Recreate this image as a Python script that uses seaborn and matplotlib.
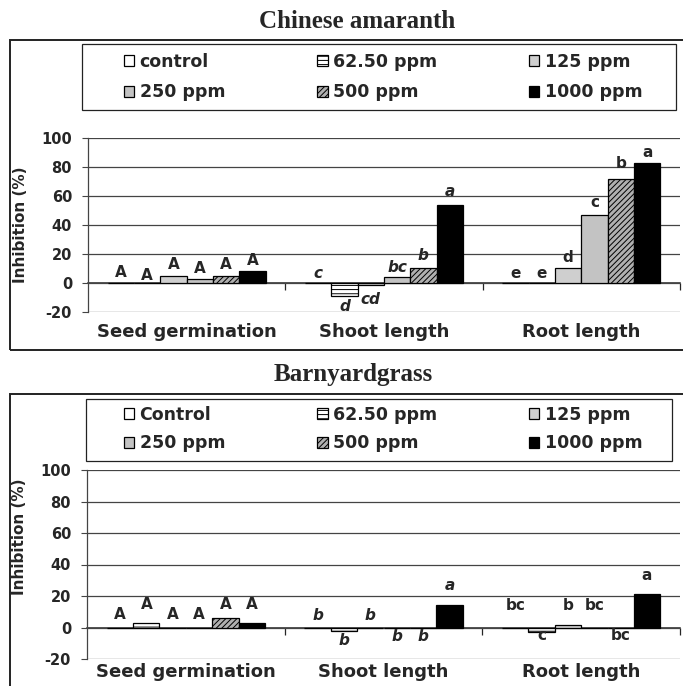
import numpy as np
import pandas as pd
import matplotlib
matplotlib.use('Agg')
import matplotlib.pyplot as plt
import seaborn as sns
from matplotlib.patches import Rectangle

traits = ['Seed germination', 'Shoot length', 'Root length']
doses_am = ['control', '62.50 ppm', '125 ppm', '250 ppm', '500 ppm', '1000 ppm']
doses_bg = ['Control', '62.50 ppm', '125 ppm', '250 ppm', '500 ppm', '1000 ppm']
y_ticks = [-20, 0, 20, 40, 60, 80, 100]

# Chinese amaranth, inhibition (%) per dose
am_seed = [0, 0, 5, 3, 5, 8.5]
am_shoot = [0, -8.5, -1, 4, 10.5, 53.5]
am_root = [0, 0, 10.5, 47, 71.5, 82.5]
am_seed_let = ['A', 'A', 'A', 'A', 'A', 'A']
am_shoot_let = ['c', 'd', 'cd', 'bc', 'b', 'a']
am_root_let = ['e', 'e', 'd', 'c', 'b', 'a']
# height of the letters (in % units)
am_seed_let_y = [7.5, 5.2, 12.6, 10.3, 12.6, 15.3]
am_shoot_let_y = [6.4, -16, -11.5, 11, 18.8, 63]
am_root_let_y = [6.4, 6.4, 18, 55.6, 82, 89.8]

# Barnyardgrass
bg_seed = [0, 2.8, 0, 0, 6, 2.8]
bg_shoot = [0, -2, 0, 0, 0, 14]
bg_root = [0, -2.8, 1.8, 0, 0, 21]
bg_seed_let = ['A', 'A', 'A', 'A', 'A', 'A']
bg_shoot_let = ['b', 'b', 'b', 'b', 'b', 'a']
bg_root_let = ['bc', 'c', 'b', 'bc', 'bc', 'a']
bg_seed_let_y = [8.5, 14.8, 8.5, 8.5, 14.8, 14.8]
bg_shoot_let_y = [7.4, -8.4, 7.4, -5.5, -5.5, 26.5]
bg_root_let_y = [13.8, -5.3, 13.8, 13.8, -5.3, 32.8]

faces = ['white', 'white', '#cfcfcf', '#c3c3c3', '#b0b0b0', 'black']
hatches = ['', '----', '', '', '//////', '']
let_style = ['normal', 'italic', 'normal']

sns.set_style('white')
plt.rcParams['font.family'] = ['DejaVu Sans']
plt.rcParams['axes.unicode_minus'] = False
plt.rcParams['hatch.linewidth'] = 0.7

W, H = 683, 686
fig = plt.figure(figsize=(W / 100, H / 100), dpi=100)


def panel(rect, doses, vals, lets, let_y, xpad, ylab_y):
    ax = fig.add_axes(rect)
    df = pd.DataFrame({'Trait': np.repeat(traits, len(doses)),
                       'Dose': doses * len(traits),
                       'Inhibition': np.concatenate(vals)})
    sns.barplot(data=df, x='Trait', y='Inhibition', hue='Dose', order=traits,
                hue_order=doses, errorbar=None, width=0.8, gap=0, legend=False, ax=ax)
    for cont, fc, h in zip(ax.containers, faces, hatches):
        for bar in cont:
            bar.set_facecolor(fc)
            bar.set_edgecolor('black')
            bar.set_hatch(h)
            bar.set_linewidth(0.9)
    for i, cont in enumerate(ax.containers):
        for j, bar in enumerate(cont):
            ax.text(bar.get_x() + bar.get_width() / 2, let_y[j][i], lets[j][i],
                    ha='center', va='center', fontsize=11, fontweight='bold',
                    fontstyle=let_style[j])
    ax.set_xlim(-0.5, 2.5)
    ax.set_ylim(-20, 100)
    ax.set_yticks(y_ticks)
    ax.set_yticklabels([str(t) for t in y_ticks], fontsize=10.5, fontweight='bold')
    ax.tick_params(axis='y', left=True, direction='out', length=4.5, width=0.8,
                   color='#444', pad=7)
    ax.tick_params(axis='x', length=0, pad=xpad)
    for lab in ax.get_xticklabels():
        lab.set_fontsize(13)
        lab.set_fontweight('bold')
    ax.grid(True, axis='y', color='#444', lw=0.9)
    ax.set_axisbelow(True)
    for s in ['top', 'right', 'bottom']:
        ax.spines[s].set_visible(False)
    ax.spines['left'].set_color('#444')
    ax.spines['left'].set_linewidth(0.9)
    ax.set_xlabel('')
    ax.set_ylabel('Inhibition (%)', fontsize=11, fontweight='bold')
    ax.yaxis.set_label_coords(-0.102, ylab_y)
    # category axis crossing at zero
    sec = ax.secondary_xaxis(1 / 6)
    sec.set_xticks([0.5, 1.5, 2.5])
    sec.set_xticklabels([])
    sec.tick_params(direction='out', length=5, width=0.9)
    sec.spines['bottom'].set_linewidth(1.1)
    return ax


ax1 = panel([88 / W, 1 - 312.3 / H, 592 / W, 174.6 / H], doses_am,
            [am_seed, am_shoot, am_root], [am_seed_let, am_shoot_let, am_root_let],
            [am_seed_let_y, am_shoot_let_y, am_root_let_y], 7.4, 0.5)
ax2 = panel([87 / W, 1 - 659 / H, 593 / W, 189 / H], doses_bg,
            [bg_seed, bg_shoot, bg_root], [bg_seed_let, bg_shoot_let, bg_root_let],
            [bg_seed_let_y, bg_shoot_let_y, bg_root_let_y], 2.6, 0.648)

# legends, row-wise order
order = [0, 3, 1, 4, 2, 5]
for ax, doses, yc, sp in [(ax1, doses_am, 77, 0.72), (ax2, doses_bg, 429, 0.62)]:
    hs = ax.containers
    fig.legend([hs[k] for k in order], [doses[k] for k in order], ncol=3,
               loc='center left', bbox_to_anchor=(124 / W, 1 - yc / H), frameon=False,
               prop=dict(weight='bold', size=12.5), handlelength=0.6, handleheight=0.6,
               handletextpad=0.3, columnspacing=5.3, labelspacing=sp,
               borderpad=0, borderaxespad=0)

# legend frames and chart borders
for x0, y0, x1, y1, lw in [(82, 44, 676, 110, 0.9), (86, 399, 672, 461, 0.9),
                           (10, 40, 700, 350, 1.4), (10, 394, 700, 700, 1.4)]:
    fig.patches.append(Rectangle((x0 / W, 1 - y1 / H), (x1 - x0) / W, (y1 - y0) / H,
                                 transform=fig.transFigure, fill=False,
                                 ec='#222', lw=lw))

fig.text(357 / W, 1 - 27.5 / H, 'Chinese amaranth', ha='center', va='baseline',
         family='Liberation Serif', fontweight='bold', fontsize=18)
fig.text(353 / W, 1 - 381.5 / H, 'Barnyardgrass', ha='center', va='baseline',
         family='Liberation Serif', fontweight='bold', fontsize=18)

plt.savefig('out.png', dpi=100)
plt.close()
